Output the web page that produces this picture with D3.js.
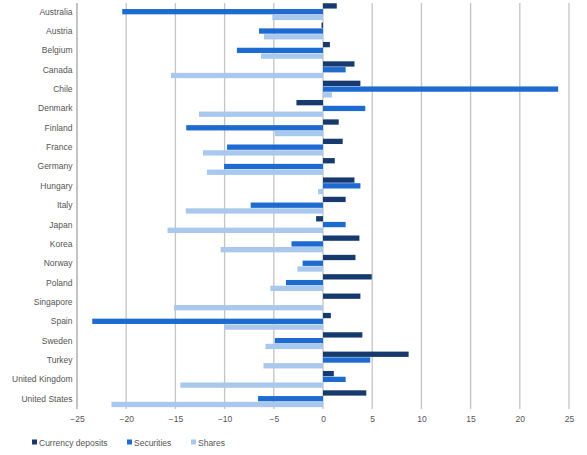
<!DOCTYPE html>
<html><head><meta charset="utf-8">
<script src="https://cdn.jsdelivr.net/npm/d3@7"></script>
<style>body{margin:0;background:#fff}svg{display:block}text{font-family:"Liberation Sans",Arial,Helvetica,sans-serif}</style>
</head><body><svg id="c" width="587" height="455"></svg>
<script>
const categories = ["Australia","Austria","Belgium","Canada","Chile","Denmark","Finland","France","Germany","Hungary","Italy","Japan","Korea","Norway","Poland","Singapore","Spain","Sweden","Turkey","United Kingdom","United States"];
const currencyDeposits = [1.4,-0.15,0.7,3.2,3.8,-2.7,1.6,2.0,1.2,3.2,2.3,-0.7,3.7,3.3,4.95,3.8,0.8,4.0,8.7,1.1,4.4];
const securities = [-20.4,-6.5,-8.75,2.3,23.9,4.3,-13.9,-9.75,-10.05,3.8,-7.35,2.3,-3.2,-2.07,-3.76,0,-23.45,-4.9,4.8,2.3,-6.6];
const shares = [-5.15,-6.0,-6.3,-15.45,0.9,-12.6,-4.9,-12.2,-11.8,-0.5,-13.95,-15.8,-10.4,-2.6,-5.35,-15.15,-10.05,-5.85,-6.05,-14.5,-21.5];
const seriesNames = ["Currency deposits","Securities","Shares"];
const xTicks = [-25,-20,-15,-10,-5,0,5,10,15,20,25];

const colors = ["#163a6e","#1d6bd0","#a9c8ee"];
const seriesData = [currencyDeposits, securities, shares];

const svg = d3.select("#c");
const x = d3.scaleLinear().domain([-25,25]).range([77,569]);
const y = d3.scaleBand().domain(categories).range([2,408.4]).paddingInner(0.13).paddingOuter(0.065);
const ys = d3.scaleBand().domain(seriesNames).range([0,y.bandwidth()]).paddingInner(0.08);

// gridlines
svg.append("g").selectAll("line").data(xTicks).join("line")
  .attr("x1",d=>x(d)).attr("x2",d=>x(d)).attr("y1",3).attr("y2",409)
  .attr("stroke","#c4c4c4").attr("stroke-width",1.3);

// bars
const g = svg.append("g");
seriesData.forEach((vals,si)=>{
  g.append("g").selectAll("rect").data(vals.map((v,i)=>({v,c:categories[i]}))).join("rect")
    .filter(d=>d.v!==0)
    .attr("x",d=>x(Math.min(0,d.v)))
    .attr("width",d=>Math.abs(x(d.v)-x(0)))
    .attr("y",d=>y(d.c)+ys(seriesNames[si]))
    .attr("height",ys.bandwidth())
    .attr("fill",colors[si]);
});

// left axis line
svg.append("line").attr("x1",77).attr("x2",77).attr("y1",3).attr("y2",409)
  .attr("stroke","#b8b8b8").attr("stroke-width",1.3);

// category labels
svg.append("g").selectAll("text").data(categories).join("text")
  .attr("x",72.5).attr("y",d=>y(d)+y.bandwidth()/2+3)
  .attr("text-anchor","end").attr("font-size","8.5px").attr("fill","#555")
  .text(d=>d);

// x tick labels
const xAxis = d3.axisBottom(x).tickValues(xTicks).tickSize(0).tickPadding(0);
const ax = svg.append("g").attr("transform","translate(0,416)").call(xAxis);
ax.select(".domain").remove();
ax.selectAll("text").attr("font-size","8.5px").attr("fill","#555").attr("font-family","Liberation Sans, Arial, sans-serif");

// legend
const legX = [32,127,191];
const leg = svg.append("g");
seriesNames.forEach((n,i)=>{
  leg.append("rect").attr("x",legX[i]).attr("y",439.5).attr("width",5).attr("height",5).attr("fill",colors[i]);
  leg.append("text").attr("x",legX[i]+7).attr("y",445.5).attr("font-size","8.5px").attr("fill","#555").text(n);
});
</script></body></html>
